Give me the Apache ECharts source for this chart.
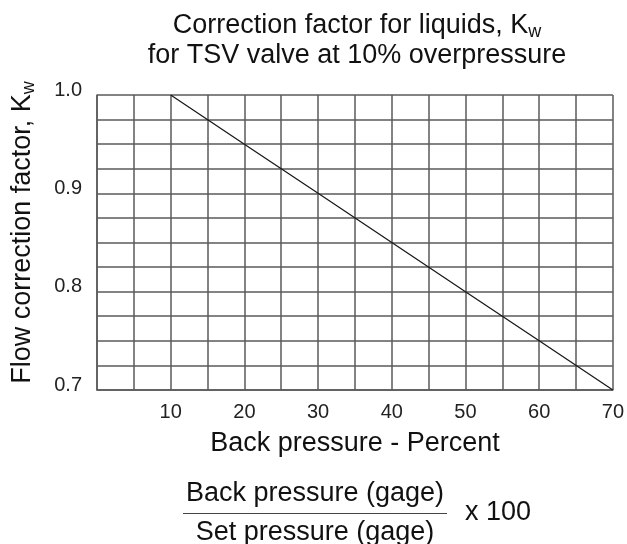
<!DOCTYPE html>
<html>
<head>
<meta charset="utf-8">
<script src="https://cdn.jsdelivr.net/npm/echarts@6/dist/echarts.min.js"></script>
<style>
html,body{margin:0;padding:0;background:#fff;}
#chart{width:627px;height:544px;}
</style>
</head>
<body>
<div id="chart"></div>
<script>
// Data
const backPressurePercent = [10, 20, 30, 40, 50, 60, 70];
const kwValues = [1.0, 0.95, 0.90, 0.85, 0.80, 0.75, 0.70];
const xTickLabels = [10, 20, 30, 40, 50, 60, 70];
const yTickLabels = ['0.7', '0.8', '0.9', '1.0'];

const FONT = '"Liberation Sans", Arial, sans-serif';
const chart = echarts.init(document.getElementById('chart'), null, {renderer: 'canvas'});

const seriesData = backPressurePercent.map((x, i) => [x, kwValues[i]]);
const GRID_COLOR = '#5a5a5a';

chart.setOption({
  backgroundColor: '#ffffff',
  animation: false,
  title: {
    left: 357,
    top: 11,
    padding: 0,
    textAlign: 'center',
    text: '{a|Correction factor for liquids, K}{s|w}\n{a|for TSV valve at 10% overpressure}',
    textStyle: {
      fontWeight: 'normal',
      rich: {
        a: {fontFamily: FONT, fontSize: 27, fontWeight: 'normal', color: '#111', lineHeight: 30},
        s: {fontFamily: FONT, fontSize: 18, fontWeight: 'normal', color: '#111', verticalAlign: 'bottom', lineHeight: 18}
      }
    }
  },
  grid: {left: 97, right: 11, top: 95, bottom: 154, containLabel: false},
  xAxis: {
    type: 'value',
    min: 0, max: 70, interval: 5,
    name: 'Back pressure - Percent',
    nameLocation: 'middle',
    nameGap: 40,
    nameTextStyle: {fontFamily: FONT, fontSize: 27, color: '#111'},
    axisLine: {show: true, lineStyle: {color: GRID_COLOR, width: 1.5}},
    axisTick: {show: false},
    axisLabel: {
      fontFamily: FONT, fontSize: 20, color: '#222', margin: 12,
      formatter: v => (xTickLabels.indexOf(Math.round(v)) >= 0 && Math.abs(v - Math.round(v)) < 1e-6) ? String(Math.round(v)) : ''
    },
    splitLine: {show: true, lineStyle: {color: GRID_COLOR, width: 1.5}}
  },
  yAxis: {
    type: 'value',
    min: 0.7, max: 1.0, interval: 0.025,
    name: '{a|Flow correction factor, K}{s|w}',
    nameLocation: 'middle',
    nameGap: 59,
    nameTextStyle: {
      padding: [0, 0, 0, 20],
      rich: {
        a: {fontFamily: FONT, fontSize: 27, color: '#111', lineHeight: 30},
        s: {fontFamily: FONT, fontSize: 18, color: '#111', verticalAlign: 'bottom', lineHeight: 18}
      }
    },
    axisLine: {show: true, lineStyle: {color: GRID_COLOR, width: 1.5}},
    axisTick: {show: false},
    axisLabel: {
      fontFamily: FONT, fontSize: 20, color: '#222', margin: 15,
      verticalAlign: 'bottom', lineHeight: 10,
      formatter: v => {
        const s = v.toFixed(1);
        return (Math.abs(v * 10 - Math.round(v * 10)) < 1e-6 && yTickLabels.indexOf(s) >= 0) ? s : '';
      }
    },
    splitLine: {show: true, lineStyle: {color: GRID_COLOR, width: 1.5}}
  },
  graphic: [
    {
      type: 'text', x: 315, y: 494,
      style: {text: 'Back pressure (gage)', font: '27px ' + FONT, fill: '#111', align: 'center', verticalAlign: 'middle'}
    },
    {
      type: 'line', shape: {x1: 183, y1: 513.5, x2: 447, y2: 513.5},
      style: {stroke: '#444', lineWidth: 1.2}
    },
    {
      type: 'text', x: 315, y: 533,
      style: {text: 'Set pressure (gage)', font: '27px ' + FONT, fill: '#111', align: 'center', verticalAlign: 'middle'}
    },
    {
      type: 'text', x: 465, y: 513,
      style: {text: 'x 100', font: '27px ' + FONT, fill: '#111', align: 'left', verticalAlign: 'middle'}
    }
  ],
  series: [{
    type: 'line',
    data: seriesData,
    showSymbol: false,
    symbol: 'none',
    lineStyle: {color: '#1a1a1a', width: 1.3},
    silent: true
  }]
});
</script>
</body>
</html>
